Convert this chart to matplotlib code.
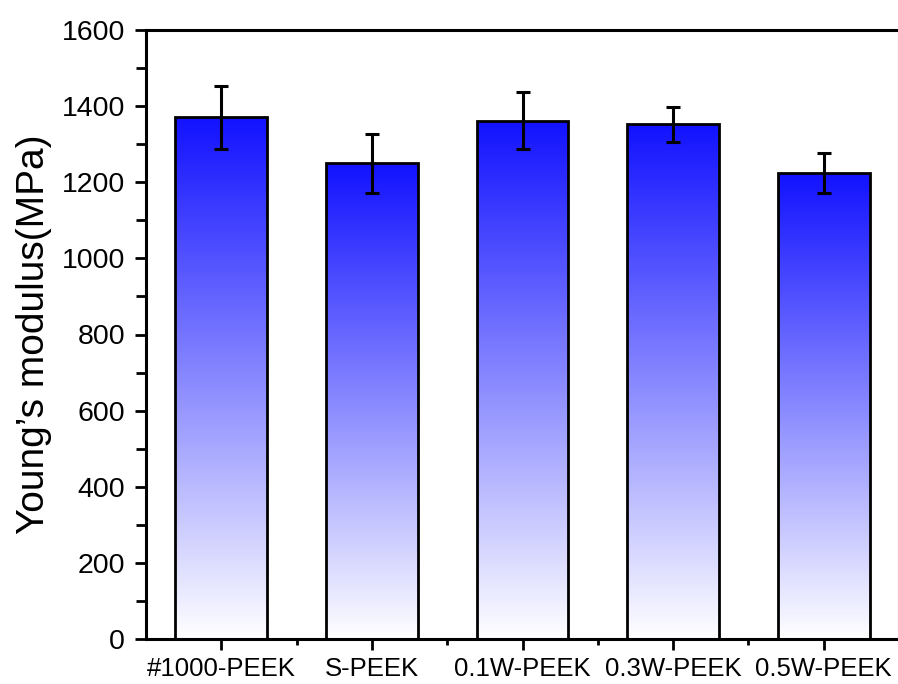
import numpy as np
import matplotlib.pyplot as plt
from matplotlib.colors import LinearSegmentedColormap

plt.rcParams['font.family'] = ['Liberation Sans', 'DejaVu Sans']

# data
samples = ['#1000-PEEK', 'S-PEEK', '0.1W-PEEK', '0.3W-PEEK', '0.5W-PEEK']
modulus = [1371, 1250, 1362, 1352, 1224]
modulus_err = [83, 77, 75, 46, 53]

fig = plt.figure(figsize=(8.98, 6.84), dpi=100)
ax = fig.add_axes([146 / 898, 1 - 639 / 684, 753 / 898, 609 / 684])

x = np.arange(1, len(samples) + 1)
width = 0.61

cmap = LinearSegmentedColormap.from_list('bw', ['#ffffff', '#1212ff'])
grad = np.linspace(0, 1, 256).reshape(-1, 1)

bars = ax.bar(x, modulus, width, facecolor='none', edgecolor='black', linewidth=2, zorder=3)
for b in bars:
    x0, y0 = b.get_x(), b.get_y()
    im = ax.imshow(grad, cmap=cmap, aspect='auto', origin='lower',
                   extent=[x0, x0 + b.get_width(), y0, y0 + b.get_height()], zorder=2)
    im.set_clip_path(b)

ax.errorbar(x, modulus, yerr=modulus_err, fmt='none', ecolor='black',
            elinewidth=2.2, capsize=5, capthick=2.2, zorder=4)

ax.set_xlim(0.5, 5.5)
ax.set_ylim(0, 1600)
ax.set_xticks(x)
ax.set_xticklabels(samples, fontsize=18.5)
ax.set_xticks(x[:-1] + 0.5, minor=True)
ax.set_yticks(np.arange(0, 1601, 200))
ax.set_yticks(np.arange(100, 1600, 200), minor=True)
ax.tick_params(axis='y', labelsize=20.5, pad=7)
ax.tick_params(axis='x', pad=5)
ax.tick_params(which='major', direction='out', length=8, width=2)
ax.tick_params(axis='y', which='minor', direction='out', length=7, width=2)
ax.tick_params(axis='x', which='minor', direction='out', length=4, width=2)
ax.set_ylabel("Young’s modulus(MPa)", fontsize=28, labelpad=7)
for s in ax.spines.values():
    s.set_linewidth(2.2)

fig.savefig('out.png', dpi=100)
